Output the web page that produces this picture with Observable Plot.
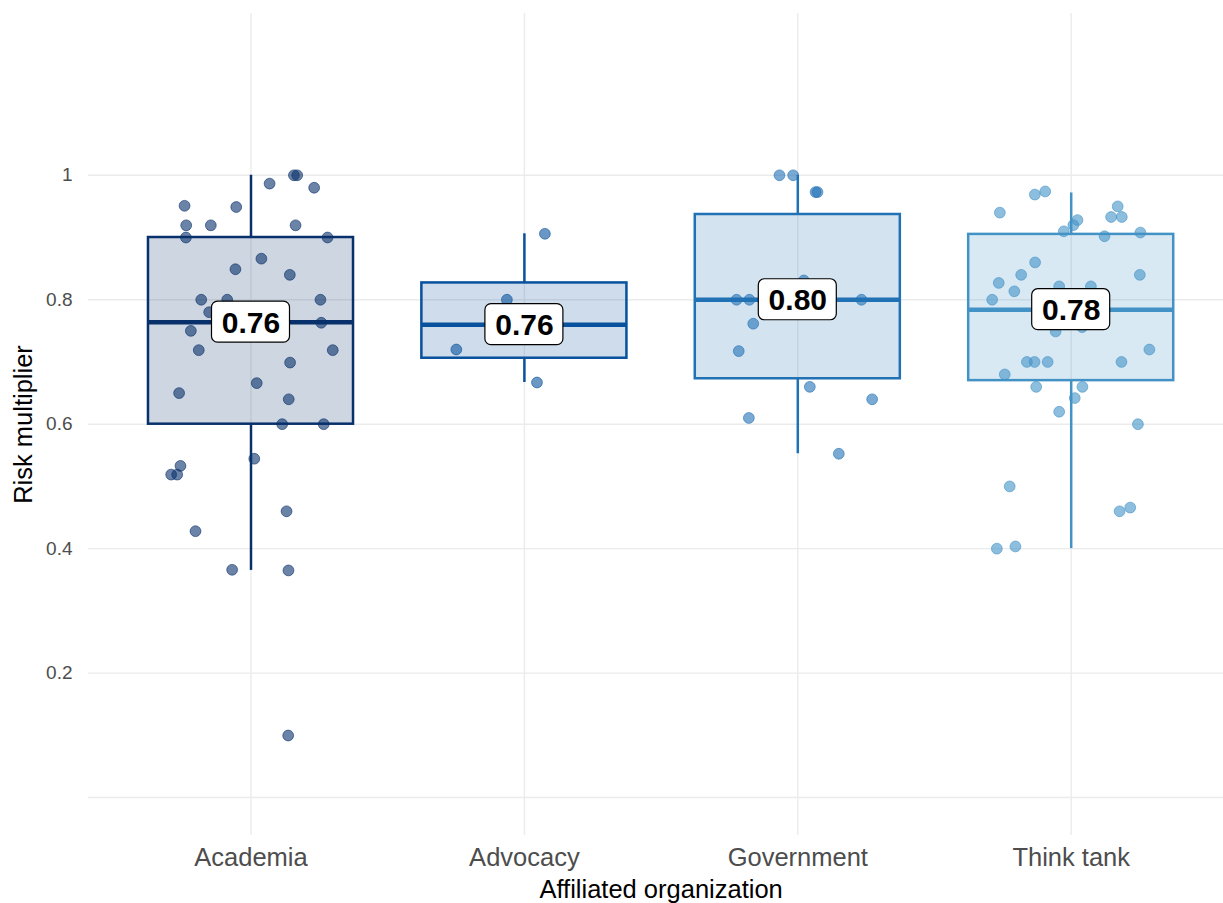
<!DOCTYPE html>
<html>
<head>
<meta charset="utf-8">
<script src="https://cdn.jsdelivr.net/npm/d3@7"></script>
<script src="https://cdn.jsdelivr.net/npm/@observablehq/plot@0.6"></script>
<style>
  html, body { margin: 0; padding: 0; background: #ffffff; }
  #chart { width: 1223px; height: 903px; overflow: hidden; }
  svg { font-family: "Liberation Sans", Arial, Helvetica, sans-serif; }
</style>
</head>
<body>
<div id="chart"></div>
<script>
// ---------- data ----------
const categories = ["Academia", "Advocacy", "Government", "Think tank"];
const boxColors = ["#08306b", "#08519c", "#2171b5", "#4292c6"];

// box statistics per category
const q1 = [0.600, 0.706, 0.673, 0.670];
const median = [0.764, 0.760, 0.800, 0.784];
const q3 = [0.900, 0.827, 0.937, 0.905];
const whiskerLow = [0.365, 0.667, 0.5525, 0.400];
const whiskerHigh = [1.000, 0.906, 1.000, 0.9716];
const medianLabels = ["0.76", "0.76", "0.80", "0.78"];

// jittered observations (value, horizontal jitter in category units)
const academiaValues = [1.0, 1.0, 0.9866, 0.98, 0.951, 0.949, 0.9196, 0.9196, 0.9196, 0.90, 0.90,
  0.866, 0.849, 0.84, 0.80, 0.80, 0.80, 0.78, 0.763, 0.75, 0.719, 0.719, 0.699, 0.666, 0.65,
  0.64, 0.60, 0.60, 0.5445, 0.533, 0.519, 0.519, 0.46, 0.428, 0.366, 0.365, 0.0997];
const academiaJitter = [0.157, 0.169, 0.068, 0.231, -0.243, -0.054, -0.237, -0.147, 0.163, -0.238, 0.280,
  0.038, -0.057, 0.142, -0.182, -0.087, 0.254, -0.153, 0.257, -0.220, -0.191, 0.299, 0.143, 0.021, -0.263,
  0.138, 0.114, 0.266, 0.012, -0.258, -0.292, -0.270, 0.130, -0.203, -0.069, 0.137, 0.136];

const advocacyValues = [0.906, 0.80, 0.72, 0.667];
const advocacyJitter = [0.075, -0.064, -0.249, 0.046];

const governmentValues = [1.0, 1.0, 0.973, 0.973, 0.831, 0.80, 0.80, 0.80, 0.7615, 0.7175, 0.66, 0.64, 0.61, 0.5525];
const governmentJitter = [-0.067, -0.017, 0.065, 0.072, 0.022, -0.224, -0.177, 0.233, -0.163, -0.216, 0.044, 0.272, -0.179, 0.150];

const thinkTankValues = [0.974, 0.969, 0.94, 0.95, 0.933, 0.933, 0.928, 0.92, 0.91, 0.902, 0.908,
  0.86, 0.84, 0.84, 0.827, 0.8135, 0.80, 0.8215, 0.8215, 0.749, 0.756, 0.72, 0.70, 0.70, 0.70, 0.70,
  0.68, 0.66, 0.66, 0.642, 0.62, 0.60, 0.50, 0.466, 0.46, 0.4035, 0.40];
const thinkTankJitter = [-0.095, -0.133, -0.261, 0.170, 0.146, 0.185, 0.023, 0.008, -0.027, 0.122, 0.253,
  -0.132, -0.183, 0.251, -0.265, -0.208, -0.289, -0.044, 0.072, -0.057, 0.040, 0.286, -0.162, -0.134, -0.086, 0.184,
  -0.243, -0.128, 0.041, 0.013, -0.044, 0.244, -0.225, 0.216, 0.177, -0.204, -0.272];

const yTicks = [0.2, 0.4, 0.6, 0.8, 1];
const yGrid = [0, 0.2, 0.4, 0.6, 0.8, 1];

const xTitle = "Affiliated organization";
const yTitle = "Risk multiplier";

// ---------- tables built from the arrays ----------
const boxes = categories.map((c, i) => ({
  i, category: c, color: boxColors[i],
  q1: q1[i], median: median[i], q3: q3[i], lo: whiskerLow[i], hi: whiskerHigh[i], label: medianLabels[i]
}));

const groups = [
  [academiaValues, academiaJitter],
  [advocacyValues, advocacyJitter],
  [governmentValues, governmentJitter],
  [thinkTankValues, thinkTankJitter]
];
const points = groups.flatMap(([vals, jit], i) =>
  vals.map((v, k) => ({ i, value: v, jitter: jit[k], color: boxColors[i] })));

const halfBox = 0.375;
const labelFont = "Liberation Sans, Arial, Helvetica, sans-serif";

const chart = Plot.plot({
  width: 1223,
  height: 903,
  marginTop: 13,
  marginBottom: 68,
  marginLeft: 88,
  marginRight: 0,
  style: { fontFamily: labelFont, background: "#ffffff", overflow: "visible" },
  x: { type: "linear", domain: [0, 3], range: [250.5, 1070.7], axis: null },
  y: { type: "linear", domain: [-0.061, 1.26], axis: null },
  color: { type: "identity" },
  marks: [
    // grid
    Plot.ruleY(yGrid, { y: d => d, stroke: "#ebebeb", strokeWidth: 1.4 }),
    Plot.ruleX(categories, { x: (d, i) => i, stroke: "#ebebeb", strokeWidth: 1.4 }),
    // box fill
    Plot.rect(boxes, { x1: d => d.i - halfBox, x2: d => d.i + halfBox, y1: "q1", y2: "q3", fill: "color", fillOpacity: 0.2 }),
    // whiskers
    Plot.ruleX(boxes, { x: "i", y1: "q3", y2: "hi", stroke: "color", strokeWidth: 2.5 }),
    Plot.ruleX(boxes, { x: "i", y1: "lo", y2: "q1", stroke: "color", strokeWidth: 2.5 }),
    // box outline
    Plot.rect(boxes, { x1: d => d.i - halfBox, x2: d => d.i + halfBox, y1: "q1", y2: "q3", fill: "none", stroke: "color", strokeWidth: 2.5 }),
    // median
    Plot.ruleY(boxes, { y: "median", x1: d => d.i - halfBox, x2: d => d.i + halfBox, stroke: "color", strokeWidth: 4.5 }),
    // jittered points
    Plot.dot(points, {
      x: d => d.i + d.jitter, y: "value", r: 5.4,
      fill: "color", fillOpacity: 0.6, stroke: "color", strokeOpacity: 0.6, strokeWidth: 1
    }),
    // median labels
    Plot.rect(boxes, {
      x1: "i", x2: "i", y1: "median", y2: "median",
      insetLeft: -39, insetRight: -39, insetTop: -20.5, insetBottom: -20.5,
      rx: 6, fill: "white", stroke: "black", strokeWidth: 1.2
    }),
    Plot.text(boxes, { x: "i", y: "median", text: "label", fontSize: 30, fontWeight: "bold", fill: "black", dy: 1 }),
    // y tick labels
    Plot.text(yTicks, { y: d => d, text: d => String(d), frameAnchor: "left", dx: -16, textAnchor: "end", lineAnchor: "middle", fontSize: 19, fill: "#4d4d4d" }),
    // x tick labels
    Plot.text(categories, { x: (d, i) => i, text: d => d, frameAnchor: "bottom", lineAnchor: "middle", dy: 22, fontSize: 25.5, fill: "#4d4d4d" }),
    // axis titles
    Plot.text([xTitle], { x: () => (categories.length - 1) / 2, text: d => d, frameAnchor: "bottom", lineAnchor: "middle", dy: 54, fontSize: 25.5, fill: "#000000" }),
    Plot.text([yTitle], { text: d => d, frameAnchor: "left", textAnchor: "middle", lineAnchor: "middle", dx: -65, rotate: -90, fontSize: 25.5, fill: "#000000" })
  ]
});

document.getElementById("chart").appendChild(chart);
</script>
</body>
</html>
